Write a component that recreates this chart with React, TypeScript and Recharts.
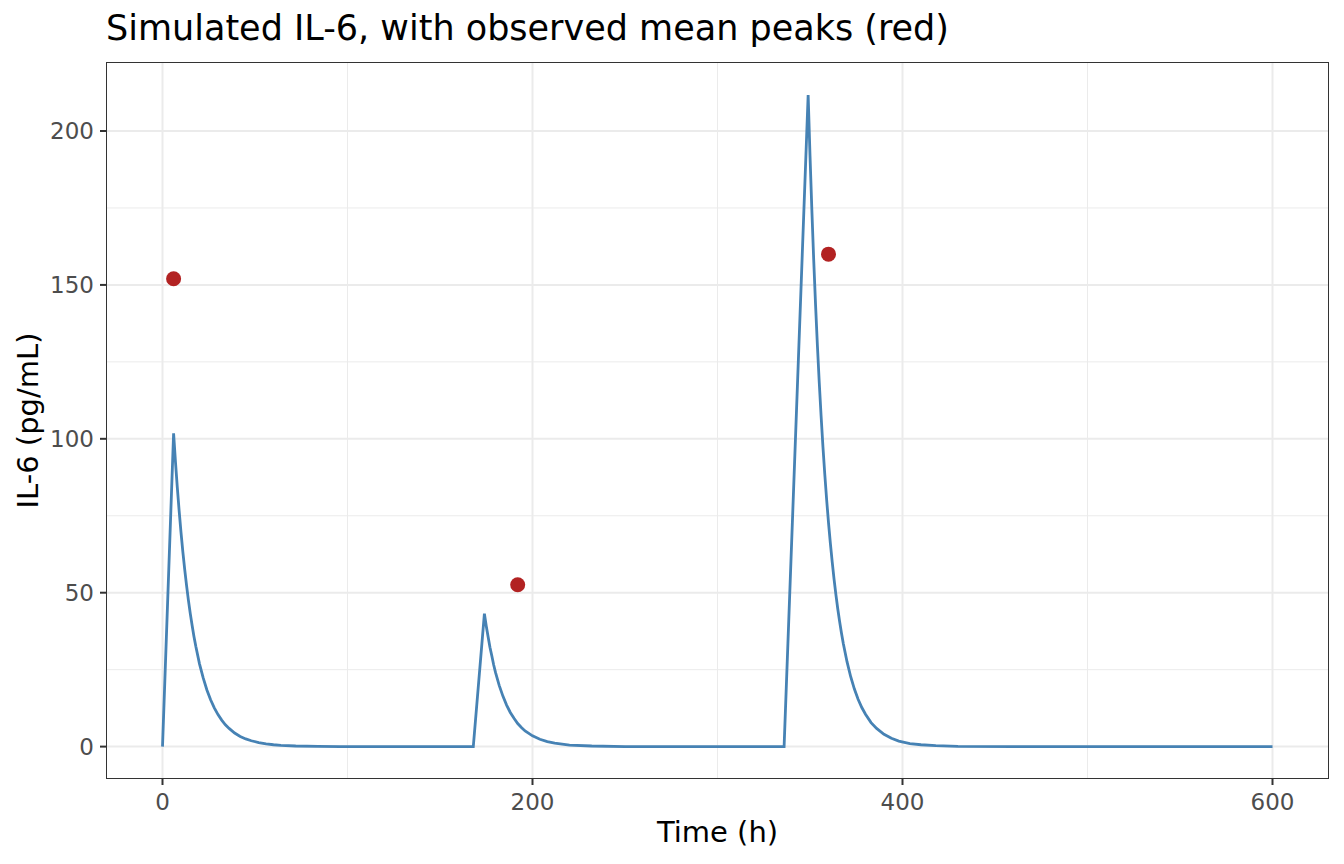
import React from 'react';
import {
  ComposedChart,
  Line,
  Scatter,
  XAxis,
  YAxis,
  CartesianGrid,
  Label,
} from 'recharts';

// simulated IL-6 curve (time in h, pg/mL)
const simTime = [
  0, 6, 7, 8, 9, 10, 11, 12, 13, 14, 15, 16, 17, 18, 20, 22, 24, 26, 28, 30, 32, 34, 36, 39, 42, 45, 48,
  52, 56, 60, 64, 72, 84, 96, 168,
  174, 175, 176, 177, 178, 179, 180, 182, 184, 186, 188, 190, 192, 194, 196, 200, 204, 208, 212, 220,
  232, 250, 336,
  349, 350, 351, 352, 353, 354, 355, 356, 357, 358, 359, 360, 361, 362, 363, 364, 365, 366, 367, 368,
  370, 372, 374, 376, 378, 380, 383, 386, 390, 394, 398, 404, 410, 418, 430, 460, 600,
];
const simIL6 = [
  0, 101.8, 92.6, 84.2, 76.6, 69.6, 63.3, 57.6, 52.4, 47.6, 43.3, 39.4, 35.8, 32.6, 26.9, 22.3, 18.4,
  15.2, 12.6, 10.4, 8.6, 7.1, 5.9, 4.4, 3.3, 2.5, 1.9, 1.3, 0.9, 0.6, 0.4, 0.2, 0.1, 0, 0,
  43.2, 39.2, 35.7, 32.3, 29.5, 26.6, 24.1, 19.9, 16.4, 13.5, 11.1, 9.2, 7.5, 6.2, 5.1, 3.5, 2.4, 1.6,
  1.1, 0.5, 0.2, 0, 0,
  211.7, 192.1, 174.4, 158.2, 143.6, 130.3, 118.3, 107.4, 97.4, 88.4, 80.2, 72.8, 66.1, 60.0, 54.4,
  49.4, 44.8, 40.7, 36.9, 33.5, 27.6, 22.7, 18.7, 15.4, 12.7, 10.5, 7.8, 5.9, 4.0, 2.7, 1.8, 1.0, 0.6,
  0.3, 0.1, 0, 0,
];

// observed mean peaks
const obsTime = [6, 192, 360];
const obsIL6 = [152, 52.6, 160];

const xTicks = [0, 200, 400, 600];
const xMinor = [100, 300, 500];
const yTicks = [0, 50, 100, 150, 200];
const yMinor = [25, 75, 125, 175];

const simData = simTime.map((t, i) => ({ t, v: simIL6[i] }));
const obsData = obsTime.map((t, i) => ({ t, v: obsIL6[i] }));

const FONT = '"DejaVu Sans", sans-serif';
const tickStyle = { fill: '#4D4D4D', fontSize: 23, fontFamily: FONT };

const XTitle = (props: any) => {
  const { viewBox } = props;
  return (
    <text
      x={viewBox.x + viewBox.width / 2}
      y={viewBox.y + 64}
      textAnchor="middle"
      fontSize={29}
      fontFamily={FONT}
      fill="#000"
    >
      Time (h)
    </text>
  );
};

const YTitle = (props: any) => {
  const { viewBox } = props;
  const cx = viewBox.x + 38;
  const cy = viewBox.y + viewBox.height / 2;
  return (
    <text
      x={cx}
      y={cy}
      transform={`rotate(-90, ${cx}, ${cy})`}
      textAnchor="middle"
      fontSize={29}
      fontFamily={FONT}
      fill="#000"
    >
      IL-6 (pg/mL)
    </text>
  );
};

const Dot = (props: any) => <circle cx={props.cx} cy={props.cy} r={7.5} fill="#B22222" />;

const App: React.FC = () => {
  return (
    <div style={{ position: 'absolute', left: 0, top: 0, width: 1344, height: 864, background: 'white' }}>
      <div
        style={{
          position: 'absolute',
          left: 106,
          top: 11,
          fontSize: 35,
          lineHeight: '35px',
          fontFamily: FONT,
          color: '#000',
          whiteSpace: 'nowrap',
        }}
      >
        Simulated IL-6, with observed mean peaks (red)
      </div>
      <ComposedChart width={1344} height={864} margin={{ top: 63, right: 16, bottom: 0, left: 0 }}>
        <CartesianGrid
          stroke="#EBEBEB"
          strokeWidth={1}
          verticalValues={xMinor}
          horizontalValues={yMinor}
        />
        <CartesianGrid
          stroke="#EBEBEB"
          strokeWidth={2}
          verticalValues={xTicks}
          horizontalValues={yTicks}
        />
        <XAxis
          dataKey="t"
          type="number"
          domain={[-30, 630]}
          allowDataOverflow
          ticks={xTicks}
          height={86}
          tickSize={7}
          tickMargin={9}
          tick={tickStyle}
          tickLine={{ stroke: '#333333', strokeWidth: 2 }}
          axisLine={false}
        >
          <Label content={XTitle} />
        </XAxis>
        <YAxis
          type="number"
          domain={[-10.2, 222.1]}
          allowDataOverflow
          ticks={yTicks}
          width={107}
          tickSize={7}
          tickMargin={6}
          tick={tickStyle}
          tickLine={{ stroke: '#333333', strokeWidth: 2 }}
          axisLine={false}
        >
          <Label content={YTitle} />
        </YAxis>
        <Line
          data={simData}
          dataKey="v"
          type="linear"
          stroke="#4682B4"
          strokeWidth={2.8}
          dot={false}
          activeDot={false}
          isAnimationActive={false}
        />
        <Scatter data={obsData} dataKey="v" shape={Dot} isAnimationActive={false} />
      </ComposedChart>
      <div
        style={{
          position: 'absolute',
          left: 106.35,
          top: 62.35,
          width: 1222.3,
          height: 716.3,
          border: '1.3px solid #333333',
          boxSizing: 'border-box',
          pointerEvents: 'none',
        }}
      />
    </div>
  );
};

export default App;
